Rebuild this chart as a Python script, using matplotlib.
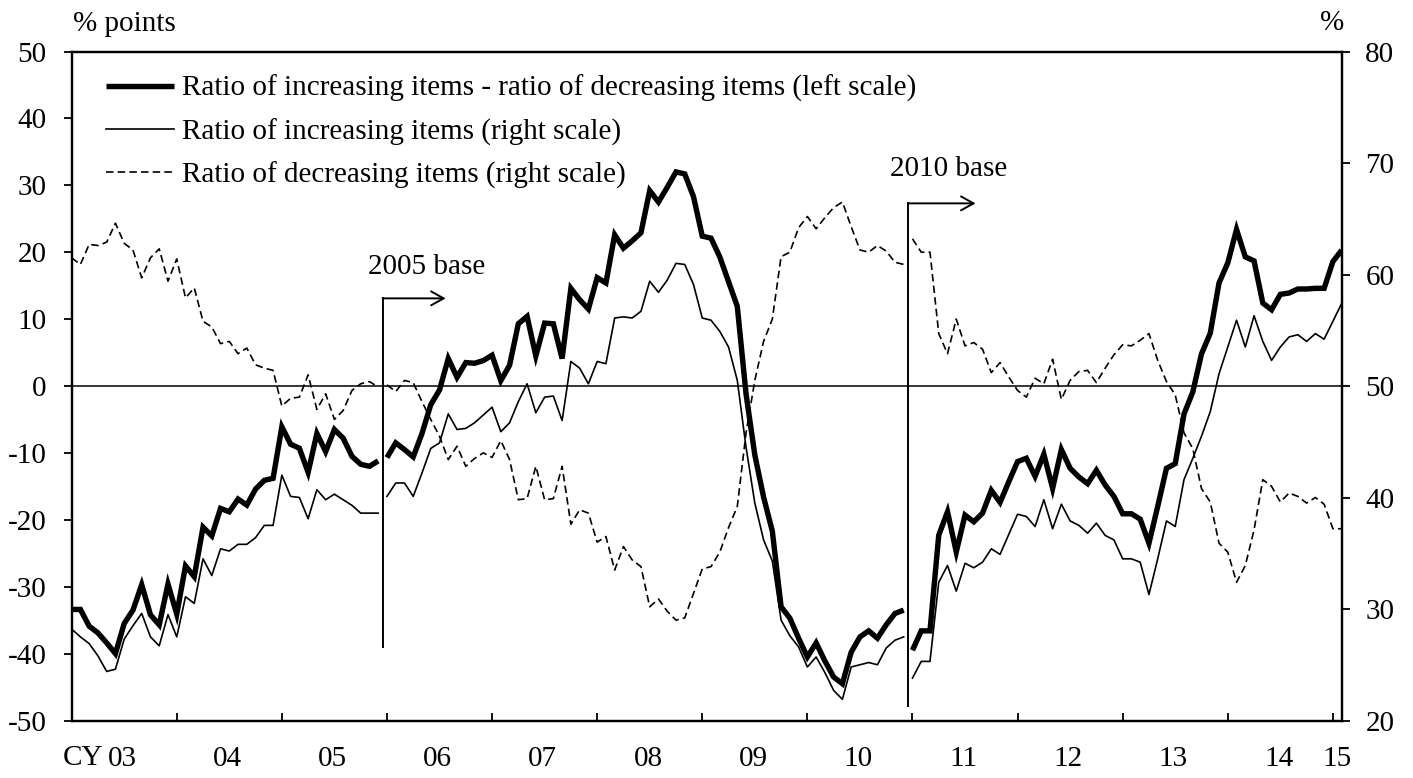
import numpy as np
import matplotlib
matplotlib.use("Agg")
import matplotlib.pyplot as plt
from matplotlib.lines import Line2D

plt.rcParams['font.family'] = ['Liberation Serif', 'DejaVu Serif']
plt.rcParams['font.size'] = 21
plt.rcParams['axes.unicode_minus'] = False

# Monthly data, Jan 2003 .. Feb 2015 (146 months)
# Ratio of increasing items - ratio of decreasing items (% points, left scale)
diff_0305 = [-33.4, -33.4, -35.9, -36.9, -38.4, -40.0, -35.5, -33.5, -29.7, -34.2, -35.7, -29.6,
             -34.1, -26.9, -28.5, -21.1, -22.4, -18.3, -18.8, -16.9, -17.8, -15.4, -14.1, -13.8,
             -6.1, -8.7, -9.3, -12.9, -7.1, -9.8, -6.5, -7.8, -10.5, -11.7, -12.0, -11.2]
diff_0610 = [-10.7, -8.5, -9.5, -10.6, -7.1, -2.8, -0.6, 4.1, 1.3, 3.5, 3.4, 3.8,
             4.6, 0.8, 3.1, 9.3, 10.4, 4.5, 9.4, 9.3, 4.1, 14.6, 12.9, 11.5,
             16.2, 15.4, 22.6, 20.6, 21.7, 22.9, 29.2, 27.5, 29.7, 32.0, 31.7, 28.3,
             22.4, 22.1, 19.3, 15.6, 11.9, -1.2, -10.3, -16.6, -21.7, -33.0, -34.7, -37.7,
             -40.5, -38.4, -41.1, -43.5, -44.5, -39.8, -37.5, -36.6, -37.7, -35.7, -34.0, -33.5]
diff_1115 = [-39.5, -36.6, -36.6, -22.3, -18.8, -24.8, -19.3, -20.3, -19.0, -15.6, -17.4, -14.3,
             -11.3, -10.8, -13.5, -10.2, -15.3, -9.5, -12.3, -13.6, -14.6, -12.6, -14.8, -16.5,
             -19.1, -19.1, -19.9, -23.5, -18.0, -12.3, -11.6, -4.2, -0.9, 4.8, 7.9, 15.4,
             18.4, 23.4, 19.3, 18.7, 12.4, 11.4, 13.7, 13.9, 14.5, 14.5, 14.6, 14.6,
             18.6, 20.3]

# Ratio of increasing items (%, right scale)
inc_0305 = [28.2, 27.5, 26.9, 25.8, 24.4, 24.6, 27.3, 28.5, 29.6, 27.5, 26.7, 29.5,
            27.5, 31.1, 30.5, 34.5, 33.0, 35.4, 35.2, 35.8, 35.8, 36.4, 37.5, 37.5,
            42.0, 40.1, 40.0, 38.1, 40.7, 39.8, 40.3, 39.8, 39.3, 38.6, 38.6, 38.6]
inc_0610 = [40.1, 41.3, 41.3, 40.1, 42.2, 44.4, 44.9, 47.5, 46.1, 46.2, 46.7, 47.4,
            48.1, 45.9, 46.7, 48.6, 50.2, 47.6, 49.0, 49.1, 46.9, 52.2, 51.6, 50.2,
            52.2, 52.0, 56.1, 56.2, 56.1, 56.7, 59.4, 58.4, 59.5, 61.0, 60.9, 59.1,
            56.1, 55.9, 54.9, 53.5, 50.5, 44.5, 39.5, 36.2, 34.3, 29.0, 27.6, 26.6,
            24.8, 25.7, 24.3, 22.7, 21.9, 24.8, 25.0, 25.2, 25.0, 26.5, 27.2, 27.5]
inc_1115 = [23.8, 25.3, 25.3, 32.4, 33.9, 31.6, 34.1, 33.7, 34.2, 35.4, 34.9, 36.7,
            38.5, 38.3, 37.4, 39.8, 37.2, 39.4, 37.9, 37.5, 36.8, 37.7, 36.6, 36.2,
            34.5, 34.5, 34.2, 31.3, 34.5, 37.9, 37.4, 41.6, 43.5, 45.5, 47.7, 51.1,
            53.5, 55.9, 53.5, 56.3, 54.0, 52.3, 53.5, 54.4, 54.6, 54.0, 54.7, 54.2,
            55.8, 57.4]

# Ratio of decreasing items (%, right scale)
dec_0305 = [61.5, 60.9, 62.7, 62.6, 62.9, 64.6, 62.8, 62.2, 59.7, 61.5, 62.3, 59.4,
            61.4, 57.9, 58.8, 55.8, 55.3, 53.8, 54.0, 52.9, 53.4, 51.9, 51.6, 51.4,
            48.2, 48.9, 49.0, 51.0, 47.9, 49.3, 47.0, 47.8, 49.6, 50.2, 50.4, 49.9]
dec_0610 = [50.1, 49.5, 50.5, 50.3, 48.6, 47.0, 45.5, 43.4, 44.6, 42.8, 43.5, 44.0,
            43.6, 45.1, 43.4, 39.8, 39.9, 42.8, 39.8, 39.9, 42.8, 37.6, 38.9, 38.6,
            36.0, 36.5, 33.5, 35.6, 34.4, 33.8, 30.2, 30.9, 29.8, 29.0, 29.2, 31.4,
            33.6, 33.8, 35.1, 37.3, 39.2, 45.8, 50.5, 54.0, 56.0, 61.6, 62.0, 64.2,
            65.2, 64.1, 65.1, 66.0, 66.5, 64.3, 62.2, 62.0, 62.6, 62.1, 61.1, 60.9]
dec_1115 = [63.2, 62.0, 62.0, 54.7, 52.9, 56.0, 53.6, 53.9, 53.3, 51.2, 52.1, 50.8,
            49.6, 49.0, 50.7, 50.2, 52.4, 48.8, 50.5, 51.3, 51.4, 50.3, 51.6, 52.8,
            53.7, 53.6, 54.1, 54.7, 52.3, 50.4, 49.2, 45.8, 44.4, 40.8, 39.6, 35.9,
            35.1, 32.4, 33.9, 37.1, 41.6, 41.0, 39.6, 40.4, 40.1, 39.5, 40.0, 39.4,
            37.2, 37.2]

year_labels = ['03', '04', '05', '06', '07', '08', '09', '10', '11', '12', '13', '14', '15']
legend_labels = ['Ratio of increasing items - ratio of decreasing items (left scale)',
                 'Ratio of increasing items (right scale)',
                 'Ratio of decreasing items (right scale)']
base_labels = ['2005 base', '2010 base']

segments = [(diff_0305, inc_0305, dec_0305),
            (diff_0610, inc_0610, dec_0610),
            (diff_1115, inc_1115, dec_1115)]

fig = plt.figure(figsize=(14.13, 7.78), dpi=100)
ax = fig.add_axes([0.0507, 0.0739, 0.8988, 0.8599])
ax2 = ax.twinx()

thick_kw = dict(color='black', lw=3.9, solid_joinstyle='miter', solid_capstyle='butt')
thin_kw = dict(color='black', lw=1.2)
dash_kw = dict(color='black', lw=1.2, linestyle=(0, (4.5, 2.5)))

start = 0
for d, i, r in segments:
    x = np.arange(start, start + len(d))
    ax2.plot(x, r, **dash_kw)
    ax2.plot(x, i, **thin_kw)
    ax.plot(x, d, **thick_kw)
    start += len(d)

# keep thick line on top
ax.set_zorder(2)
ax2.set_zorder(1)
ax.patch.set_visible(False)

ax.axhline(0, color='black', lw=1.1, zorder=1)

ax.set_xlim(0, 145)
ax.set_ylim(-50, 50)
ax2.set_ylim(20, 80)
ax.set_yticks(np.arange(-50, 51, 10))
ax2.set_yticks(np.arange(20, 81, 10))

for a in (ax, ax2):
    for s in ('left', 'right', 'bottom', 'top'):
        a.spines[s].set_linewidth(1.6)

ax.set_xticks(np.arange(12, 145, 12))
ax.set_xticklabels([])
ax.tick_params(axis='x', which='major', direction='in', length=6, width=1.3)
ax.set_xticks(list(np.arange(5.8, 140, 12)) + [144.5], minor=True)
ax.set_xticklabels(year_labels, minor=True)
ax.tick_params(axis='x', which='minor', length=0, pad=18)
ax.tick_params(axis='y', direction='out', length=6, width=1.3, pad=12)
ax2.tick_params(axis='y', direction='out', length=6, width=1.3, pad=11)

ax.text(1.3, -55.6, 'CY', ha='center', va='center', clip_on=False)

# base change markers
ax.plot([35.5, 35.5], [-39.0, 13.1], color='black', lw=1.4)
ax.annotate('', xy=(42.7, 13.1), xytext=(35.5, 13.1),
            arrowprops=dict(arrowstyle='->,head_length=0.45,head_width=0.25', lw=1.4,
                            color='black', shrinkA=0, shrinkB=0, mutation_scale=20))
ax.text(40.5, 17.8, base_labels[0], ha='center', va='center')
ax.plot([95.5, 95.5], [-47.8, 27.3], color='black', lw=1.4)
ax.annotate('', xy=(103.2, 27.3), xytext=(95.5, 27.3),
            arrowprops=dict(arrowstyle='->,head_length=0.45,head_width=0.25', lw=1.4,
                            color='black', shrinkA=0, shrinkB=0, mutation_scale=20))
ax.text(100.1, 32.4, base_labels[1], ha='center', va='center')

handles = [Line2D([], [], **thick_kw), Line2D([], [], **thin_kw), Line2D([], [], **dash_kw)]
ax.legend(handles, legend_labels, loc='upper left', bbox_to_anchor=(0.027, 0.965),
          frameon=False, borderpad=0, borderaxespad=0, handlelength=2.33,
          handletextpad=0.27, labelspacing=0.55)

fig.text(73 / 1413, 1 - 24 / 778, '% points', ha='left', va='center')
fig.text(1332 / 1413, 1 - 23 / 778, '%', ha='center', va='center')

fig.savefig('out.png', dpi=100)
